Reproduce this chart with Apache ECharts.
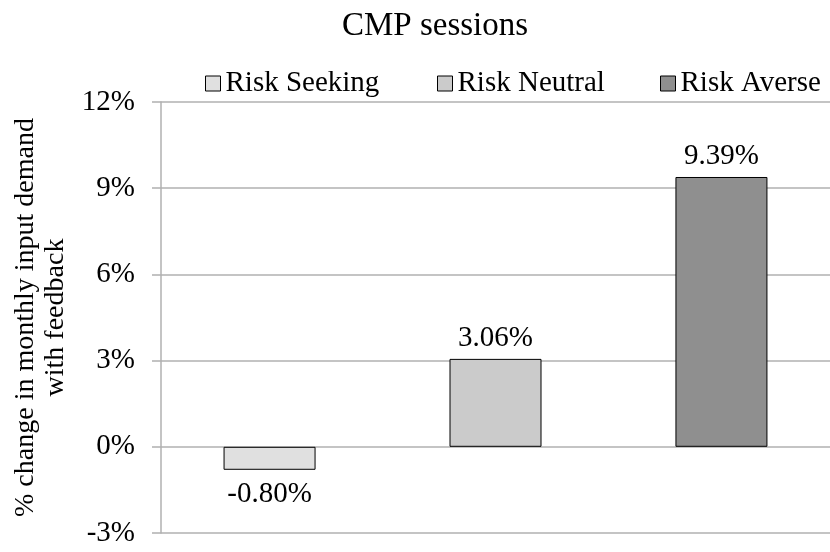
<!DOCTYPE html>
<html>
<head>
<meta charset="utf-8">
<script src="https://cdn.jsdelivr.net/npm/echarts@6/dist/echarts.min.js"></script>
<style>html,body{margin:0;padding:0;background:#fff}#c{width:830px;height:552px}</style>
</head>
<body>
<div id="c"></div>
<script>
var chartTitle = 'CMP sessions';
var seriesNames = ['Risk Seeking', 'Risk Neutral', 'Risk Averse'];
var seriesValues = [-0.80, 3.06, 9.39];
var seriesColors = ['#e0e0e0', '#cbcbcb', '#8f8f8f'];
var categories = ['CMP sessions'];
var yMin = -3, yMax = 12, yStep = 3;
var yTitle = '% change in monthly input demand\nwith feedback';

var FONT = '"Liberation Serif", "Times New Roman", serif';
var chart = echarts.init(document.getElementById('c'), null, {renderer: 'canvas'});

var series = seriesNames.map(function (name, i) {
  return {
    name: name,
    type: 'bar',
    data: [seriesValues[i]],
    barWidth: 92,
    barGap: '145.6%',
    itemStyle: {color: seriesColors[i], borderColor: '#000', borderWidth: 1},
    label: {
      show: true,
      position: seriesValues[i] < 0 ? 'bottom' : 'top',
      distance: seriesValues[i] < 0 ? 10 : 6,
      color: '#000',
      fontFamily: FONT,
      fontSize: 29,
      formatter: function (p) { return p.value.toFixed(2) + '%'; }
    },
    emphasis: {disabled: true}
  };
});

var legendLefts = [200, 432, 655];
var legends = seriesNames.map(function (name, i) {
  return {
    data: [name],
    left: legendLefts[i],
    top: 64,
    itemWidth: 15,
    itemHeight: 15,
    icon: 'rect',
    selectedMode: false,
    itemStyle: {borderColor: '#000', borderWidth: 1},
    textStyle: {fontFamily: FONT, fontSize: 29, color: '#000'}
  };
});

chart.setOption({
  animation: false,
  title: {
    text: chartTitle,
    left: 430,
    textAlign: 'center',
    top: 5,
    textStyle: {fontFamily: FONT, fontSize: 33, fontWeight: 'normal', color: '#000'}
  },
  legend: legends,
  grid: {left: 161, width: 678, top: 102, bottom: 19, containLabel: false},
  xAxis: {
    type: 'category',
    data: categories,
    axisLine: {show: false},
    axisTick: {show: false},
    axisLabel: {show: false},
    splitLine: {show: false}
  },
  yAxis: {
    type: 'value',
    min: yMin,
    max: yMax,
    interval: yStep,
    name: yTitle,
    nameLocation: 'middle',
    nameGap: 90,
    nameRotate: 90,
    nameTextStyle: {fontFamily: FONT, fontSize: 28, color: '#000', lineHeight: 30, align: 'center'},
    axisLine: {show: true, lineStyle: {color: '#b0b0b0', width: 1.5}},
    axisTick: {show: true, length: 9, lineStyle: {color: '#b0b0b0', width: 1.5}},
    axisLabel: {
      margin: 26,
      color: '#000',
      fontFamily: FONT,
      fontSize: 29,
      formatter: function (v) { return v + '%'; }
    },
    splitLine: {show: true, lineStyle: {color: '#b0b0b0', width: 1.5}}
  },
  series: series
});
</script>
</body>
</html>
